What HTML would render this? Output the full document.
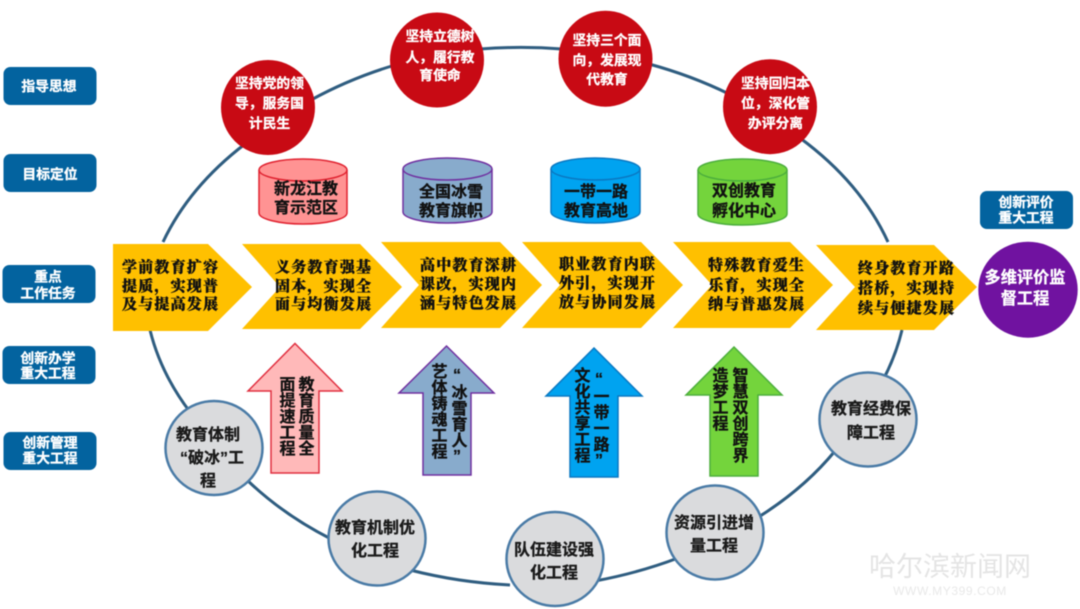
<!DOCTYPE html>
<html lang="zh"><head><meta charset="utf-8"><style>
html,body{margin:0;padding:0;background:#fff;width:1080px;height:609px;overflow:hidden}
svg{display:block;filter:blur(.5px)}
text{font-family:"Liberation Sans","Noto Sans CJK SC",sans-serif;font-weight:700;text-anchor:middle}
.s text{fill:#fff;stroke:#fff;stroke-width:.3px;font-size:13.8px}
.r text{fill:#fff;stroke:#fff;stroke-width:.3px;font-size:13.8px}
.p text{fill:#fff;stroke:#fff;stroke-width:.3px;font-size:16.2px}
.c text{fill:#111;stroke:#111;stroke-width:.3px;font-size:16px}
.g text{fill:#1a1a1a;stroke:#1a1a1a;stroke-width:.3px;font-size:16px}
.h text{font-family:"Liberation Serif","Noto Serif CJK SC",serif;fill:#111;stroke:#111;stroke-width:.35px;font-size:15px;letter-spacing:1.2px;text-anchor:start;font-weight:900}
.v text{fill:#111;stroke:#111;stroke-width:.3px;font-size:16px;writing-mode:vertical-rl;text-orientation:upright;text-anchor:start}
</style></head><body>
<svg width="1080" height="609" viewBox="0 0 1080 609" xmlns="http://www.w3.org/2000/svg">
<g fill="none" stroke="#2f5d80" stroke-width="3">
<path d="M163 242A378 270 0 0 1 245 144"/>
<path d="M311 100A378 270 0 0 1 395 65"/>
<path d="M480 49A378 270 0 0 1 562 49"/>
<path d="M649 64A378 270 0 0 1 729 94"/>
<path d="M800 138A378 270 0 0 1 888 242"/>
<path d="M902 330A378 270 0 0 1 883 380"/>
<path d="M835 451A378 270 0 0 1 757 518"/>
<path d="M678 558A378 270 0 0 1 595 581"/>
<path d="M510 585A378 270 0 0 1 410 570"/>
<path d="M331 539A378 270 0 0 1 246 479"/>
<path d="M190 412A378 270 0 0 1 150 330"/>
</g>

<g class="s" fill="#03639f">
<rect x="3.500" y="67" width="93" height="38" rx="7"/><rect x="3.500" y="154" width="93" height="38" rx="7"/>
<rect x="2.500" y="265" width="93" height="38" rx="7"/><rect x="2.500" y="346" width="93" height="38" rx="7"/>
<rect x="3.500" y="432" width="93" height="38" rx="7"/><rect x="980" y="191" width="93" height="38" rx="7"/>
<text x="49" y="91">指导思想</text><text x="50" y="179">目标定位</text>
<text x="48" y="281.500">重点</text><text x="48" y="298">工作任务</text>
<text x="48" y="363">创新办学</text><text x="48" y="378">重大工程</text>
<text x="50" y="447.500">创新管理</text><text x="50" y="463">重大工程</text>
<text x="1026" y="207">创新评价</text><text x="1026" y="222.500">重大工程</text>
</g>

<g fill="#c80a14">
<ellipse cx="268" cy="107.500" rx="47" ry="47.500"/><ellipse cx="437" cy="60" rx="47" ry="47.500"/>
<ellipse cx="605.500" cy="58.700" rx="47" ry="48"/><ellipse cx="770" cy="106.700" rx="47" ry="47.500"/>
</g>
<g class="r">
<text x="269.500" y="88">坚持党的领</text><text x="269.500" y="108">导，服务国</text><text x="269.500" y="128">计民生</text>
<text x="440" y="41">坚持立德树</text><text x="440" y="62">人，履行教</text><text x="440" y="80">育使命</text>
<text x="607" y="45">坚持三个面</text><text x="607" y="65">向，发展现</text><text x="607" y="84">代教育</text>
<text x="775.500" y="88">坚持回归本</text><text x="775.500" y="108">位，深化管</text><text x="775.500" y="128">办评分离</text>
</g>

<g stroke-width="1.500">
<path d="M259 170V213C259 219 279 224 303 224S347 219 347 213V170C347 164 327 159 303 159S259 164 259 170Z" fill="#ff9393" stroke="#e0212f"/>
<path d="M259 170C259 176 279 181 303 181S347 176 347 170" fill="none" stroke="#e0212f"/>
<path d="M403 169V212C403 218 423 223 447 223S492 218 492 212V169C492 163 471 158 447 158S403 163 403 169Z" fill="#88abcc" stroke="#7030a0"/>
<path d="M403 169C403 175 423 180 447 180S492 175 492 169" fill="none" stroke="#7030a0"/>
<path d="M551 169V212C551 218 571 223 595 223S640 218 640 212V169C640 163 619 158 595 158S551 163 551 169Z" fill="#00a3f0" stroke="#0a78c2"/>
<path d="M551 169C551 175 571 180 595 180S640 175 640 169" fill="none" stroke="#0a78c2"/>
<path d="M698 170V214C698 220 718 225 742 225S787 220 787 214V170C787 164 766 159 742 159S698 164 698 170Z" fill="#74d43c" stroke="#4cae3c"/>
<path d="M698 170C698 176 718 181 742 181S787 176 787 170" fill="none" stroke="#4cae3c"/>
</g>
<g class="c">
<text x="306" y="194">新龙江教</text><text x="306" y="213">育示范区</text>
<text x="451" y="197">全国冰雪</text><text x="451" y="216">教育旗帜</text>
<text x="596" y="197">一带一路</text><text x="596" y="216">教育高地</text>
<text x="744" y="196">双创教育</text><text x="744" y="216">孵化中心</text>
</g>

<g fill="#ffc000">
<path d="M113 244H208L252 287L208 331H113Z"/>
<path d="M242 244H360L402 287L360 329H242L280 287Z"/>
<path d="M381 242H500L542 285L500 328H381L419 285Z"/>
<path d="M522 242H641L683 285L641 328H522L560 285Z"/>
<path d="M673 242H790L833 285L790 328H673L712 285Z"/>
<path d="M816 245H934L977 287L934 330H816L855 287Z"/>
</g>
<g class="h">
<text x="122" y="272">学前教育扩容</text><text x="122" y="291">提质，实现普</text><text x="122" y="309">及与提高发展</text>
<text x="275" y="272">义务教育强基</text><text x="275" y="291">固本，实现全</text><text x="275" y="309">面与均衡发展</text>
<text x="420" y="270">高中教育深耕</text><text x="420" y="289">课改，实现内</text><text x="420" y="308">涵与特色发展</text>
<text x="559" y="269">职业教育内联</text><text x="559" y="288">外引，实现开</text><text x="559" y="307">放与协同发展</text>
<text x="708" y="270">特殊教育爱生</text><text x="708" y="290">乐育，实现全</text><text x="708" y="309">纳与普惠发展</text>
<text x="858" y="273">终身教育开路</text><text x="858" y="293">搭桥，实现持</text><text x="858" y="313">续与便捷发展</text>
</g>

<ellipse cx="1028" cy="289.700" rx="49.700" ry="48" fill="#7012a0"/>
<g class="p"><text x="1025" y="283">多维评价监</text><text x="1025" y="304">督工程</text></g>

<g stroke-width="1.500">
<path d="M295 343.500L342 391H319V473H271V391H248Z" fill="#ffb9b9" stroke="#e03040"/>
<path d="M446.500 346L494 393H471V475H423V393H399Z" fill="#88abcc" stroke="#7030a0"/>
<path d="M594 348L642 396H618V477H570V396H546Z" fill="#00a3f0" stroke="#0a78c2"/>
<path d="M734 347L782 395H758V476H710V395H686Z" fill="#74d43c" stroke="#4cae3c"/>
</g>
<g class="v">
<text x="304" y="376">教育质量全</text><text x="285" y="376">面提速工程</text>
<text x="457" y="367">“冰雪育人”</text><text x="437" y="363">艺体铸魂工程</text>
<text x="599" y="371">“一带一路”</text><text x="580" y="367">文化共享工程</text>
<text x="738" y="367">智慧双创跨界</text><text x="718" y="367">造梦工程</text>
</g>

<g fill="#dadbdd" stroke="#4a7ba6" stroke-width="2.500">
<ellipse cx="214" cy="448" rx="48.500" ry="47"/><ellipse cx="377" cy="538.500" rx="48.500" ry="47"/><ellipse cx="555" cy="559" rx="48.500" ry="47"/>
<ellipse cx="715" cy="532.500" rx="48.500" ry="47"/><ellipse cx="868" cy="419.500" rx="48.500" ry="47"/>
</g>
<g class="g">
<text x="208" y="440">教育体制</text><text x="212" y="463">“破冰”工</text><text x="208" y="486">程</text>
<text x="375" y="533">教育机制优</text><text x="375" y="556">化工程</text>
<text x="554" y="555">队伍建设强</text><text x="554" y="578">化工程</text>
<text x="714" y="528">资源引进增</text><text x="714" y="551">量工程</text>
<text x="871" y="414">教育经费保</text><text x="871" y="438">障工程</text>
</g>

<text x="950" y="576" style="font-size:27px;font-weight:400;fill:#e4e4e4">哈尔滨新闻网</text>
<text x="950" y="595" style="font-size:12px;font-weight:400;fill:#e8e8e8;letter-spacing:.6px">WWW.MY399.COM</text>
</svg>
</body></html>
